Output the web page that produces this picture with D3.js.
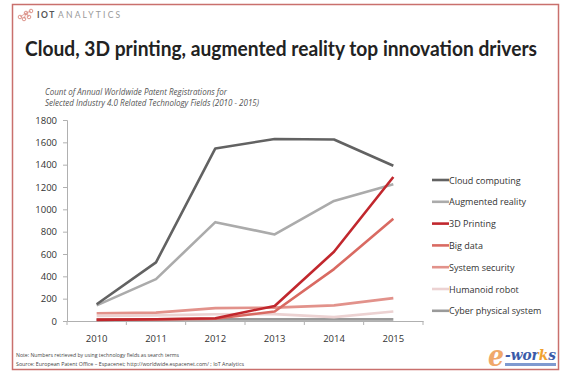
<!DOCTYPE html>
<html><head><meta charset="utf-8">
<script src="https://cdn.jsdelivr.net/npm/d3@7"></script>
<style>body{margin:0;background:#fff}svg{display:block}</style>
</head><body>
<script>
const years = ["2010","2011","2012","2013","2014","2015"];
const yTicks = [0,200,400,600,800,1000,1200,1400,1600,1800];
const seriesNames = ["Cloud computing","Augmented reality","3D Printing","Big data","System security","Humanoid robot","Cyber physical system"];
const cloud = [150,525,1545,1630,1625,1390];
const augmented = [140,375,885,775,1075,1225];
const printing3d = [10,15,25,135,620,1290];
const bigData = [12,15,20,85,465,915];
const security = [70,75,115,120,140,205];
const robot = [45,50,60,62,35,85];
const cyber = [15,15,15,15,15,15];
const seriesValues = [cloud,augmented,printing3d,bigData,security,robot,cyber];
const colors = ["#626262","#ababab","#c1272d","#d96a62","#e2928b","#ecd2d2","#9a9a9a"];

const W=569,H=377;
const svg=d3.select("body").append("svg").attr("width",W).attr("height",H);

// frame
svg.append("rect").attr("x",12.5).attr("y",4.5).attr("width",546).attr("height",365)
  .attr("fill","none").attr("stroke","#c9706d").attr("stroke-width",1.5);

// logo
const lg=svg.append("g");
[[20,17],[26,13],[31,11],[24,19],[29,17]].forEach(([cx,cy])=>lg.append("circle").attr("cx",cx).attr("cy",cy).attr("r",1.8).attr("fill","none").attr("stroke","#d98a80").attr("stroke-width",0.9));
lg.append("path").attr("d","M20,17 L26,13 L31,11 M26,13 L24,19 M26,13 L29,17").attr("stroke","#d98a80").attr("stroke-width",0.7).attr("fill","none");
lg.append("text").attr("x",37).attr("y",17.5).attr("font-family","Lato, sans-serif").attr("font-size",8.5).attr("font-weight","bold").attr("fill","#555").attr("letter-spacing",1.5).text("IOT");
lg.append("text").attr("x",58).attr("y",17.5).attr("font-family","Lato, sans-serif").attr("font-size",8.5).attr("fill","#999").attr("letter-spacing",2.2).text("ANALYTICS");

// title
svg.append("text").attr("x",25).attr("y",56).attr("font-family","Lato, sans-serif").attr("font-weight","bold")
  .attr("font-size",20).attr("fill","#222").attr("textLength",512).attr("lengthAdjust","spacingAndGlyphs")
  .text("Cloud, 3D printing, augmented reality top innovation drivers");

// subtitle
const sub=svg.append("g").attr("font-family","'Open Sans', sans-serif").attr("font-style","italic").attr("font-size",8.3).attr("fill","#555");
sub.append("text").attr("x",45).attr("y",95).attr("textLength",182).attr("lengthAdjust","spacingAndGlyphs").text("Count of Annual Worldwide Patent Registrations for");
sub.append("text").attr("x",45).attr("y",106).attr("textLength",214).attr("lengthAdjust","spacingAndGlyphs").text("Selected Industry 4.0 Related Technology Fields (2010 - 2015)");

// scales
const x=d3.scaleBand().domain(years).range([67,423]);
const y=d3.scaleLinear().domain([0,1800]).range([321,120]);

const xAxis=svg.append("g").attr("transform","translate(0,321)")
  .call(d3.axisBottom(x).tickSize(0).tickPadding(14));
xAxis.select(".domain").attr("stroke","#b0b0b0");
xAxis.selectAll("text").attr("font-family","'Open Sans', sans-serif").attr("font-size",9.5).attr("fill","#333");
// tick marks between bands
const edges=years.map(d=>x(d)).concat([x.range()[1]]);
svg.append("g").selectAll("line").data(edges).join("line")
  .attr("x1",d=>d).attr("x2",d=>d).attr("y1",321).attr("y2",325).attr("stroke","#b0b0b0");

const yAxis=svg.append("g").attr("transform","translate(67,0)")
  .call(d3.axisLeft(y).tickValues(yTicks).tickFormat(d3.format("d")).tickSize(4).tickPadding(6));
yAxis.select(".domain").attr("stroke","#b0b0b0");
yAxis.selectAll(".tick line").attr("stroke","#b0b0b0");
yAxis.selectAll("text").attr("font-family","'Open Sans', sans-serif").attr("font-size",9.5).attr("fill","#333");

// lines (draw bottom ones first)
const line=d3.line().x((d,i)=>x(years[i])+x.bandwidth()/2).y(d=>y(d));
const order=[6,5,4,1,0,3,2];
order.forEach(k=>{
  svg.append("path").datum(seriesValues[k]).attr("d",line).attr("fill","none")
    .attr("stroke",colors[k]).attr("stroke-width",2.6).attr("stroke-linejoin","round");
});

// legend
const leg=svg.append("g");
seriesNames.forEach((n,i)=>{
  const ly=180+i*21.8;
  leg.append("line").attr("x1",432).attr("x2",449).attr("y1",ly).attr("y2",ly).attr("stroke",colors[i]).attr("stroke-width",2.6);
  leg.append("text").attr("x",449).attr("y",ly+3.5).attr("font-family","'Open Sans', sans-serif").attr("font-size",9).attr("fill","#333").text(n);
});

// notes
const nt=svg.append("g").attr("font-family","'Open Sans', sans-serif").attr("font-size",5.6).attr("fill","#444");
nt.append("text").attr("x",16).attr("y",357).attr("textLength",163).attr("lengthAdjust","spacingAndGlyphs").text("Note: Numbers retrieved by using technology fields as search terms");
nt.append("text").attr("x",16).attr("y",366).attr("textLength",228).attr("lengthAdjust","spacingAndGlyphs").text("Source: European Patent Office \u2013 Espacenet; http://worldwide.espacenet.com/ ; IoT Analytics");

// e-works logo
const defs=svg.append("defs");
const gr=defs.append("linearGradient").attr("id","ewg").attr("gradientUnits","userSpaceOnUse").attr("x1",505).attr("x2",557).attr("y1",0).attr("y2",0);
[[0,"#3b5aa8"],[0.64,"#3b5aa8"],[0.64,"#f0a030"],[0.82,"#f0a030"],[0.82,"#3b5aa8"],[1,"#3b5aa8"]].forEach(([o,c])=>gr.append("stop").attr("offset",o).attr("stop-color",c));
svg.append("rect").attr("x",505).attr("y",363).attr("width",51).attr("height",3).attr("fill","#7f9ad0");
svg.append("text").attr("x",488).attr("y",366).attr("font-family","'DejaVu Serif', serif").attr("font-style","italic").attr("font-weight","bold")
  .attr("font-size",30).attr("fill","#f0a86a").attr("textLength",16).attr("lengthAdjust","spacingAndGlyphs").text("e");
svg.append("text").attr("x",505).attr("y",360).attr("font-family","'DejaVu Serif', serif").attr("font-style","italic").attr("font-weight","bold")
  .attr("font-size",15).attr("fill","url(#ewg)").attr("textLength",51).attr("lengthAdjust","spacingAndGlyphs").text("-works");
</script>
</body></html>
